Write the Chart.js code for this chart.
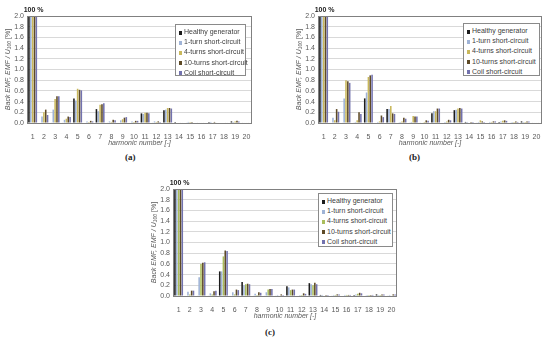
<!DOCTYPE html>
<html>
<head>
<meta charset="utf-8">
<script src="https://cdn.jsdelivr.net/npm/chart.js@4.4.1/dist/chart.umd.min.js"></script>
<style>
  body { margin: 0; background: #fff; }
  #wrap { position: relative; width: 550px; height: 348px; overflow: hidden; font-family: "Liberation Sans", Arial, sans-serif; }
  canvas { position: absolute; }
  .legend {
    position: absolute; background: #fff; border: 1px solid #8a8a8a;
    font-size: 7px; color: #404040; box-sizing: border-box; padding: 2px 0 0 3px;
  }
  .legend div { height: 10.2px; line-height: 10.2px; white-space: nowrap; color: #404040; }
  .legend span { display: inline-block; width: 3px; height: 4px; margin-right: 2px; vertical-align: -0.5px; }
  .tag { position: absolute; font-family: "Liberation Serif", serif; font-weight: bold; font-size: 9px; color: #222; }
</style>
</head>
<body>
<div id="wrap">
  <canvas id="chartA" width="260" height="150" style="left:0;top:0"></canvas>
  <canvas id="chartB" width="259" height="150" style="left:291px;top:0"></canvas>
  <canvas id="chartC" width="259" height="150" style="left:146px;top:173px"></canvas>
  <div class="legend" id="legA" style="left:175px;top:24px;width:71px;height:52px"></div>
  <div class="legend" id="legB" style="left:463px;top:23px;width:77px;height:53px"></div>
  <div class="legend" id="legC" style="left:318px;top:193px;width:75px;height:54px"></div>
  <div class="tag" style="left:125px;top:152px">(a)</div>
  <div class="tag" style="left:409px;top:152px">(b)</div>
  <div class="tag" style="left:265px;top:327px">(c)</div>
</div>
<script>
// dados
const harmonicas = ["1","2","3","4","5","6","7","8","9","10","11","12","13","14","15","16","17","18","19","20"];
const nomesSeries = ["Healthy generator", "1-turn short-circuit", "4-turns short-circuit", "10-turns short-circuit", "Coil short-circuit"];
const yMax = 2.0;
const yPasso = 0.2;

const healthy = [100, 0.01, 0.01, 0.01, 0.46, 0.01, 0.26, 0.01, 0.01, 0.01, 0.18, 0.01, 0.24, 0.02, 0.01, 0.01, 0.02, 0.01, 0.03, 0.01];

// (a)
const oneTurnA   = [100, 0.12, 0.25, 0.06, 0.42, 0.03, 0.22, 0.03, 0.05, 0.03, 0.17, 0.03, 0.25, 0.01, 0.02, 0.01, 0.02, 0.01, 0.02, 0.01];
const fourTurnsA = [100, 0.20, 0.45, 0.08, 0.64, 0.02, 0.34, 0.02, 0.07, 0.02, 0.19, 0.02, 0.28, 0.01, 0.02, 0.01, 0.01, 0.01, 0.03, 0.01];
const tenTurnsA  = [100, 0.25, 0.50, 0.12, 0.62, 0.04, 0.35, 0.06, 0.10, 0.04, 0.19, 0.03, 0.28, 0.01, 0.02, 0.01, 0.02, 0.01, 0.04, 0.01];
const coilA      = [100, 0.15, 0.50, 0.11, 0.61, 0.03, 0.37, 0.05, 0.11, 0.04, 0.18, 0.02, 0.27, 0.01, 0.01, 0.01, 0.01, 0.01, 0.03, 0.01];

// (b)
const oneTurnB   = [100, 0.10, 0.46, 0.02, 0.57, 0.02, 0.26, 0.02, 0.02, 0.01, 0.22, 0.02, 0.25, 0.02, 0.02, 0.02, 0.03, 0.02, 0.02, 0.01];
const fourTurnsB = [100, 0.05, 0.80, 0.05, 0.86, 0.03, 0.32, 0.03, 0.13, 0.02, 0.22, 0.03, 0.27, 0.01, 0.05, 0.02, 0.04, 0.02, 0.02, 0.01];
const tenTurnsB  = [100, 0.26, 0.78, 0.20, 0.89, 0.14, 0.18, 0.10, 0.12, 0.05, 0.27, 0.06, 0.28, 0.02, 0.03, 0.03, 0.05, 0.03, 0.03, 0.01];
const coilB      = [100, 0.21, 0.75, 0.17, 0.90, 0.11, 0.17, 0.08, 0.12, 0.04, 0.27, 0.05, 0.27, 0.02, 0.02, 0.03, 0.04, 0.02, 0.03, 0.01];

// (c)
const oneTurnC   = [100, 0.08, 0.35, 0.05, 0.46, 0.07, 0.20, 0.04, 0.07, 0.02, 0.16, 0.02, 0.22, 0.02, 0.02, 0.02, 0.03, 0.02, 0.02, 0.02];
const fourTurnsC = [100, 0.03, 0.60, 0.03, 0.74, 0.03, 0.22, 0.02, 0.12, 0.01, 0.11, 0.02, 0.20, 0.01, 0.02, 0.02, 0.04, 0.02, 0.02, 0.01];
const tenTurnsC  = [100, 0.10, 0.62, 0.09, 0.85, 0.12, 0.23, 0.07, 0.13, 0.03, 0.12, 0.05, 0.25, 0.02, 0.03, 0.02, 0.06, 0.02, 0.03, 0.03];
const coilC      = [100, 0.10, 0.63, 0.10, 0.84, 0.11, 0.22, 0.06, 0.13, 0.02, 0.12, 0.04, 0.22, 0.02, 0.03, 0.02, 0.05, 0.02, 0.03, 0.03];

const coresAB = ["#1c1c1c", "#9fb3d6", "#c9b85c", "#5e4a26", "#7272ae"];
const coresC  = ["#1c1c1c", "#9fb3d6", "#aabd5c", "#5e4a26", "#7272ae"];

const fonte = "'Liberation Sans', Arial, sans-serif";

// moldura, "100 %" e titulo do eixo y com subscrito
const extras = {
  id: "extras",
  afterDraw(chart) {
    const ctx = chart.ctx;
    const a = chart.chartArea;
    ctx.save();
    ctx.strokeStyle = "#808080";
    ctx.lineWidth = 1;
    ctx.strokeRect(a.left + 0.5, a.top + 0.5, a.right - a.left - 1, a.bottom - a.top);

    const x1 = chart.scales.x.getPixelForValue(0);
    ctx.fillStyle = "#222";
    ctx.font = "bold 7px " + fonte;
    ctx.textAlign = "center";
    ctx.textBaseline = "bottom";
    ctx.fillText("100 %", x1 + 1, a.top - 2);

    // titulo y
    const partes = [
      { t: "Back EMF, EMF / U", f: "italic 7px " + fonte, dy: 0 },
      { t: "100", f: "italic 5px " + fonte, dy: 1.5 },
      { t: " [%]", f: "7px " + fonte, dy: 0 }
    ];
    let total = 0;
    partes.forEach(p => { ctx.font = p.f; p.w = ctx.measureText(p.t).width; total += p.w; });
    ctx.translate(8, (a.top + a.bottom) / 2);
    ctx.rotate(-Math.PI / 2);
    ctx.fillStyle = "#595959";
    ctx.textAlign = "left";
    ctx.textBaseline = "middle";
    let px = -total / 2;
    partes.forEach(p => {
      ctx.font = p.f;
      ctx.fillText(p.t, px, p.dy);
      px += p.w;
    });
    ctx.restore();
  }
};

function criarGrafico(id, series, cores) {
  new Chart(document.getElementById(id), {
    type: "bar",
    data: {
      labels: harmonicas,
      datasets: series.map((valores, i) => ({
        label: nomesSeries[i],
        data: valores,
        backgroundColor: cores[i],
        borderWidth: 0,
        categoryPercentage: 0.82,
        barPercentage: 0.85
      }))
    },
    options: {
      responsive: false,
      animation: false,
      devicePixelRatio: 1,
      layout: { padding: { top: 16, right: 8, left: 0, bottom: 0 } },
      plugins: { legend: { display: false }, tooltip: { enabled: false } },
      scales: {
        x: {
          grid: { display: false },
          border: { display: false },
          ticks: { color: "#595959", font: { size: 7, family: fonte }, padding: 2, maxRotation: 0, autoSkip: false },
          title: { display: true, text: "harmonic number [-]", color: "#595959", font: { size: 7, style: "italic", family: fonte }, padding: { top: 0, bottom: 3 } },
          afterFit: s => { s.height = 27; }
        },
        y: {
          min: 0,
          max: yMax,
          grid: { color: "#d9d9d9", drawTicks: false },
          border: { display: false },
          ticks: { stepSize: yPasso, autoSkip: false, color: "#595959", font: { size: 7, family: fonte }, padding: 3, callback: v => v.toFixed(1) },
          afterFit: s => { s.width = 27; }
        }
      }
    },
    plugins: [extras]
  });
}

function criarLegenda(id, cores) {
  const box = document.getElementById(id);
  nomesSeries.forEach((nome, i) => {
    const linha = document.createElement("div");
    linha.innerHTML = `<span style="background:${cores[i]}"></span>${nome}`;
    box.appendChild(linha);
  });
}

criarGrafico("chartA", [healthy, oneTurnA, fourTurnsA, tenTurnsA, coilA], coresAB);
criarGrafico("chartB", [healthy, oneTurnB, fourTurnsB, tenTurnsB, coilB], coresAB);
criarGrafico("chartC", [healthy, oneTurnC, fourTurnsC, tenTurnsC, coilC], coresC);

criarLegenda("legA", coresAB);
criarLegenda("legB", coresAB);
criarLegenda("legC", coresC);
</script>
</body>
</html>
